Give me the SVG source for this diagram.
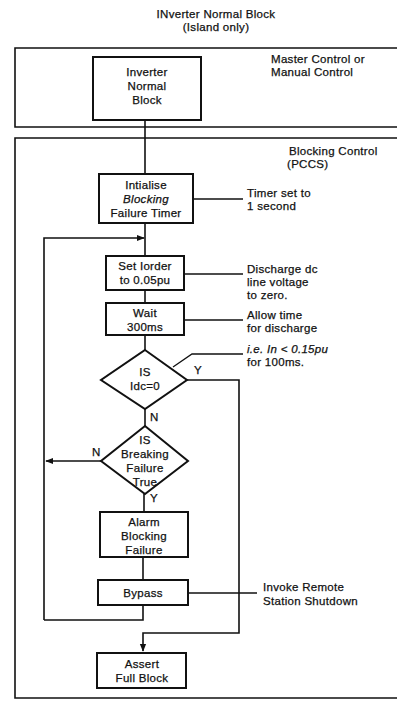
<svg xmlns="http://www.w3.org/2000/svg" width="397" height="701" viewBox="0 0 397 701">
<defs>
<style>
text{font-family:"Liberation Sans",Arial,sans-serif;font-size:11.5px;fill:#111;stroke:#111;stroke-width:0.25;letter-spacing:0.3px}
.c{text-anchor:middle}
.i{font-style:italic}
.box{fill:none;stroke:#111;stroke-width:2}
.frame{fill:none;stroke:#111;stroke-width:1.6}
.ln{fill:none;stroke:#111;stroke-width:1.6}
.thin{fill:none;stroke:#111;stroke-width:1.3}
</style>
<marker id="ah" viewBox="0 0 10 10" refX="9" refY="5" markerWidth="5" markerHeight="5" orient="auto">
<path d="M0,1 L10,5 L0,9 z" fill="#111"/>
</marker>
</defs>
<rect width="397" height="701" fill="#fff"/>

<g id="title">
<text class="c" x="216" y="18">INverter Normal Block</text>
<text class="c" x="216" y="31">(Island only)</text>
</g>

<g id="frame-master">
<path class="frame" d="M400,48 H15 V127 H400"/>
<text x="271" y="63">Master Control or</text>
<text x="271" y="76">Manual Control</text>
</g>

<g id="frame-blocking">
<path class="frame" d="M400,138 H15 V698 H400"/>
<text x="289" y="155">Blocking Control</text>
<text x="287" y="168">(PCCS)</text>
</g>

<g id="connectors">
<path class="ln" d="M145,120 V174"/>
<path class="ln" d="M145,223 V256"/>
<path class="ln" d="M44,620 V238 H144" marker-end="url(#ah)"/>
<path class="ln" d="M145,290 V303"/>
<path class="ln" d="M145,335 V350"/>
<path class="ln" d="M145,409 V426"/>
<path class="ln" d="M187,380 H239 V633 H143 V651" marker-end="url(#ah)"/>
<path class="ln" d="M101,461 H46" marker-end="url(#ah)"/>
<path class="ln" d="M144,494 V512"/>
<path class="ln" d="M143,557 V580"/>
<path class="ln" d="M143,605 V620 H44"/>
<path class="thin" d="M193,199 H243"/>
<path class="thin" d="M184,274 H243"/>
<path class="thin" d="M184,320 H243"/>
<path class="thin" d="M173,367 L192,354 H243"/>
<path class="thin" d="M188,593 H257"/>
<text x="194" y="374">Y</text>
<text x="150" y="421">N</text>
<text x="92" y="456">N</text>
<text x="150" y="502">Y</text>
</g>

<g id="n-inverter">
<rect class="box" x="93" y="57" width="108" height="63"/>
<text class="c" x="147" y="76">Inverter</text>
<text class="c" x="147" y="90">Normal</text>
<text class="c" x="147" y="104">Block</text>
</g>

<g id="n-init">
<rect class="box" x="99" y="174" width="94" height="49"/>
<text class="c" x="146" y="189">Intialise</text>
<text class="c i" x="146" y="203">Blocking</text>
<text class="c" x="146" y="217">Failure Timer</text>
<text x="247" y="197">Timer set to</text>
<text x="247" y="210">1 second</text>
</g>

<g id="n-setorder">
<rect class="box" x="106" y="256" width="78" height="34"/>
<text class="c" x="145" y="270">Set Iorder</text>
<text class="c" x="145" y="284">to 0.05pu</text>
<text x="247" y="273">Discharge dc</text>
<text x="247" y="286">line voltage</text>
<text x="247" y="299">to zero.</text>
</g>

<g id="n-wait">
<rect class="box" x="106" y="303" width="78" height="32"/>
<text class="c" x="145" y="317">Wait</text>
<text class="c" x="145" y="331">300ms</text>
<text x="247" y="319">Allow time</text>
<text x="247" y="332">for discharge</text>
</g>

<g id="n-idc">
<path class="box" d="M145,350 L187,380 L145,409 L101,380 Z"/>
<text class="c" x="145" y="376">IS</text>
<text class="c" x="145" y="390">Idc=0</text>
<text class="i" x="247" y="353">i.e. In &lt; 0.15pu</text>
<text x="247" y="366">for 100ms.</text>
</g>

<g id="n-breaking">
<path class="box" d="M145,426 L188,461 L145,494 L101,461 Z"/>
<text class="c" x="145" y="444">IS</text>
<text class="c" x="145" y="458">Breaking</text>
<text class="c" x="145" y="472">Failure</text>
<text class="c" x="145" y="486">True</text>
</g>

<g id="n-alarm">
<rect class="box" x="100" y="512" width="88" height="45"/>
<text class="c" x="144" y="526">Alarm</text>
<text class="c" x="144" y="540">Blocking</text>
<text class="c" x="144" y="554">Failure</text>
</g>

<g id="n-bypass">
<rect class="box" x="98" y="580" width="90" height="25"/>
<text class="c" x="143" y="597">Bypass</text>
<text x="263" y="591">Invoke Remote</text>
<text x="263" y="605">Station Shutdown</text>
</g>

<g id="n-assert">
<rect class="box" x="97" y="653" width="89" height="35"/>
<text class="c" x="142" y="668">Assert</text>
<text class="c" x="142" y="682">Full Block</text>
</g>
</svg>
